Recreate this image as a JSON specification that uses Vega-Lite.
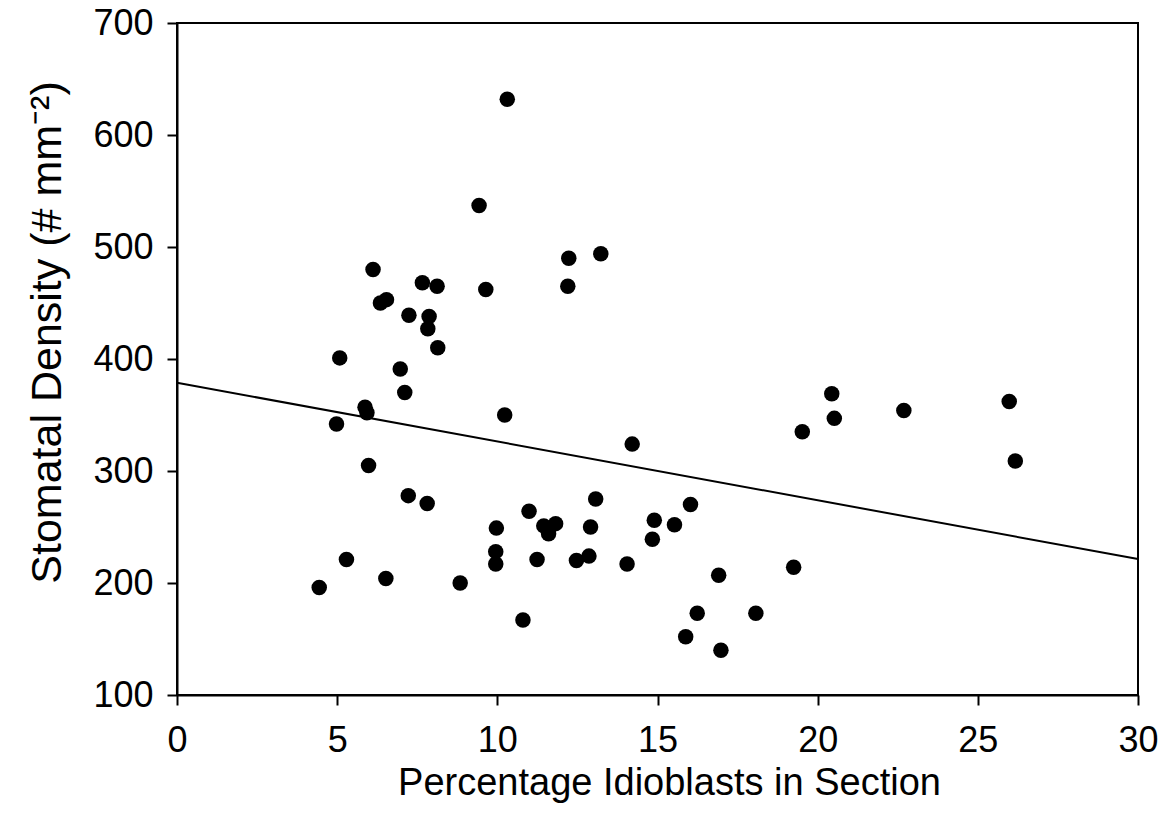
{
  "$schema": "https://vega.github.io/schema/vega-lite/v6.json",
  "autosize": "none",
  "width": 961,
  "height": 672,
  "padding": {"left": 177, "top": 23, "right": 27, "bottom": 138},
  "background": "white",
  "config": {
    "font": "Liberation Sans",
    "view": {"stroke": "black", "strokeWidth": 2},
    "axis": {
      "domainColor": "black",
      "domainWidth": 2,
      "tickColor": "black",
      "tickWidth": 2,
      "tickSize": 10,
      "grid": false,
      "labelFont": "Liberation Sans",
      "labelFontSize": 36,
      "labelColor": "black",
      "titleFont": "Liberation Sans",
      "titleFontSize": 38,
      "titleFontWeight": "normal",
      "titleColor": "black"
    }
  },
  "datasets": {
    "points": [
      {"idioblasts": 4.44, "density": 196},
      {"idioblasts": 4.98, "density": 342},
      {"idioblasts": 5.08, "density": 401},
      {"idioblasts": 5.29, "density": 221},
      {"idioblasts": 5.87, "density": 357},
      {"idioblasts": 5.93, "density": 352},
      {"idioblasts": 5.98, "density": 305},
      {"idioblasts": 6.12, "density": 480},
      {"idioblasts": 6.35, "density": 450},
      {"idioblasts": 6.52, "density": 204},
      {"idioblasts": 6.54, "density": 453},
      {"idioblasts": 6.97, "density": 391},
      {"idioblasts": 7.11, "density": 370},
      {"idioblasts": 7.22, "density": 278},
      {"idioblasts": 7.24, "density": 439},
      {"idioblasts": 7.66, "density": 468},
      {"idioblasts": 7.81, "density": 271},
      {"idioblasts": 7.83, "density": 427},
      {"idioblasts": 7.87, "density": 438},
      {"idioblasts": 8.12, "density": 465},
      {"idioblasts": 8.14, "density": 410},
      {"idioblasts": 8.84, "density": 200},
      {"idioblasts": 9.43, "density": 537},
      {"idioblasts": 9.64, "density": 462},
      {"idioblasts": 9.95, "density": 228},
      {"idioblasts": 9.95, "density": 217},
      {"idioblasts": 9.97, "density": 249},
      {"idioblasts": 10.23, "density": 350},
      {"idioblasts": 10.31, "density": 632},
      {"idioblasts": 10.80, "density": 167},
      {"idioblasts": 10.99, "density": 264},
      {"idioblasts": 11.24, "density": 221},
      {"idioblasts": 11.45, "density": 251},
      {"idioblasts": 11.60, "density": 244},
      {"idioblasts": 11.82, "density": 253},
      {"idioblasts": 12.20, "density": 465},
      {"idioblasts": 12.23, "density": 490},
      {"idioblasts": 12.47, "density": 220},
      {"idioblasts": 12.86, "density": 224},
      {"idioblasts": 12.91, "density": 250},
      {"idioblasts": 13.07, "density": 275},
      {"idioblasts": 13.23, "density": 494},
      {"idioblasts": 14.05, "density": 217},
      {"idioblasts": 14.21, "density": 324},
      {"idioblasts": 14.84, "density": 239},
      {"idioblasts": 14.90, "density": 256},
      {"idioblasts": 15.53, "density": 252},
      {"idioblasts": 15.88, "density": 152},
      {"idioblasts": 16.03, "density": 270},
      {"idioblasts": 16.24, "density": 173},
      {"idioblasts": 16.91, "density": 207},
      {"idioblasts": 16.98, "density": 140},
      {"idioblasts": 18.07, "density": 173},
      {"idioblasts": 19.25, "density": 214},
      {"idioblasts": 19.52, "density": 335},
      {"idioblasts": 20.44, "density": 369},
      {"idioblasts": 20.52, "density": 347},
      {"idioblasts": 22.69, "density": 354},
      {"idioblasts": 25.98, "density": 362},
      {"idioblasts": 26.17, "density": 309}
    ],
    "fit": [
      {"idioblasts": 0, "density": 378.8},
      {"idioblasts": 30, "density": 221.4}
    ]
  },
  "layer": [
    {
      "data": {"name": "fit"},
      "mark": {"type": "line", "color": "black", "strokeWidth": 2},
      "encoding": {
        "x": {
          "field": "idioblasts",
          "type": "quantitative",
          "scale": {"domain": [0, 30], "nice": false, "zero": false},
          "axis": {
            "title": "Percentage Idioblasts in Section",
            "values": [0, 5, 10, 15, 20, 25, 30],
            "labelPadding": 18,
            "titlePadding": 6,
            "titleX": 492,
            "labelFlush": false
          }
        },
        "y": {
          "field": "density",
          "type": "quantitative",
          "scale": {"domain": [100, 700], "nice": false, "zero": false},
          "axis": {
            "title": "Stomatal Density (# mm⁻²)",
            "titleFontSize": 43,
            "titleY": 309,
            "values": [100, 200, 300, 400, 500, 600, 700],
            "labelPadding": 14,
            "titlePadding": 23,
            "labelFlush": false
          }
        }
      }
    },
    {
      "data": {"name": "points"},
      "mark": {"type": "point", "filled": true, "shape": "circle", "color": "black", "opacity": 1, "size": 240},
      "encoding": {
        "x": {"field": "idioblasts", "type": "quantitative"},
        "y": {"field": "density", "type": "quantitative"}
      }
    }
  ]
}
